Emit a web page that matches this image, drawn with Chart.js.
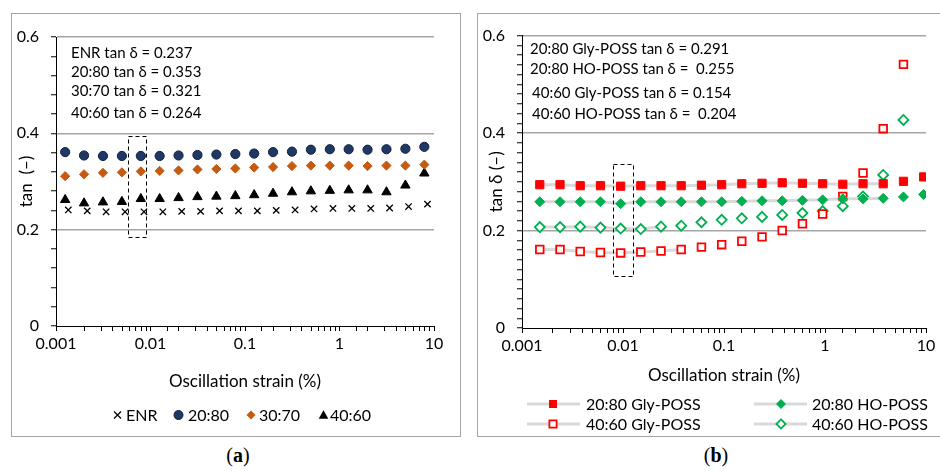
<!DOCTYPE html>
<html>
<head>
<meta charset="utf-8">
<script src="https://cdn.jsdelivr.net/npm/chart.js@4.4.1/dist/chart.umd.min.js"></script>
<style>
  body { margin: 0; width: 940px; height: 471px; overflow: hidden; background: #fff; position: relative; }
  .panel { position: absolute; top: 14px; height: 422px; outline: 1.5px solid #a6a6a6; }
  #panelA { left: 12px; width: 448px; }
  #panelB { left: 478px; width: 470px; }
  .tag { position: absolute; top: 443px; width: 60px; text-align: center; font: 20px "Liberation Serif", serif; line-height: 24px; color: #000; }
</style>
</head>
<body>
<div class="panel" id="panelA"><canvas id="chartA" width="448" height="422"></canvas></div>
<div class="panel" id="panelB"><canvas id="chartB" width="470" height="422"></canvas></div>
<div class="tag" style="left:208px">(<b>a</b>)</div>
<div class="tag" style="left:686px">(<b>b</b>)</div>
<script>
'use strict';

// ****** DATA (a) *****
const strainA = [0.00125, 0.00198, 0.00314, 0.00498, 0.0079, 0.0125, 0.0198, 0.0314, 0.0498, 0.079,
  0.125, 0.198, 0.314, 0.498, 0.79, 1.25, 1.98, 3.14, 4.98, 7.9];
const strainEnr = [0.00135, 0.00214, 0.00339, 0.00538, 0.00853, 0.0135, 0.0214, 0.0339, 0.0538, 0.0853,
  0.135, 0.214, 0.339, 0.538, 0.853, 1.35, 2.14, 3.39, 5.38, 8.53];
const tanEnr = [0.241, 0.239, 0.237, 0.237, 0.237, 0.237, 0.238, 0.238, 0.239, 0.239,
  0.239, 0.240, 0.241, 0.243, 0.244, 0.244, 0.244, 0.245, 0.248, 0.253];
const tan2080 = [0.361, 0.354, 0.353, 0.353, 0.353, 0.353, 0.354, 0.355, 0.356, 0.357,
  0.358, 0.361, 0.362, 0.366, 0.367, 0.367, 0.366, 0.367, 0.368, 0.372];
const tan3070 = [0.311, 0.315, 0.318, 0.319, 0.321, 0.322, 0.323, 0.325, 0.326, 0.327,
  0.329, 0.330, 0.332, 0.333, 0.333, 0.333, 0.332, 0.333, 0.333, 0.335];
const tan4060 = [0.262, 0.255, 0.257, 0.258, 0.264, 0.264, 0.266, 0.268, 0.269, 0.270,
  0.272, 0.275, 0.278, 0.280, 0.281, 0.282, 0.282, 0.278, 0.292, 0.317];
const notesA = ['ENR tan \u03b4 = 0.237', '20:80 tan \u03b4 = 0.353', '30:70 tan \u03b4 = 0.321', '40:60 tan \u03b4 = 0.264'];

// ****** DATA (b) *****
const strainB = [0.0015, 0.00238, 0.00377, 0.00598, 0.00948, 0.015, 0.0238, 0.0377, 0.0598, 0.0948,
  0.15, 0.238, 0.377, 0.598, 0.948, 1.5, 2.38, 3.77, 5.98, 9.48];
const gly2080 = [0.294, 0.294, 0.292, 0.292, 0.291, 0.292, 0.292, 0.292, 0.293, 0.294,
  0.296, 0.297, 0.298, 0.297, 0.296, 0.295, 0.296, 0.296, 0.301, 0.310];
const ho2080 = [0.259, 0.259, 0.259, 0.259, 0.255, 0.259, 0.259, 0.259, 0.259, 0.259,
  0.260, 0.261, 0.261, 0.262, 0.263, 0.265, 0.265, 0.266, 0.269, 0.274];
const gly4060 = [0.161, 0.161, 0.157, 0.155, 0.154, 0.156, 0.158, 0.161, 0.166, 0.171,
  0.178, 0.187, 0.200, 0.214, 0.234, 0.270, 0.318, 0.409, 0.541];
const ho4060 = [0.207, 0.207, 0.208, 0.206, 0.204, 0.203, 0.208, 0.210, 0.217, 0.222,
  0.225, 0.228, 0.232, 0.236, 0.240, 0.250, 0.270, 0.314, 0.427];
const notesB = ['20:80 Gly-POSS tan \u03b4 = 0.291', '20:80 HO-POSS tan \u03b4 =  0.255',
  '40:60 Gly-POSS tan \u03b4 = 0.154', '40:60 HO-POSS tan \u03b4 =  0.204'];

const FONT = 'Lato';
const RED = '#ff0000';
const GREEN = '#00b050';
const LINK = '#d9d9d9';

// ***** HELPERS *****
function pairs(xs, ys){
  let out = [];
  for(let i = 0; i < ys.length; i++){
    out.push({x: xs[i], y: ys[i]});
  }
  return out;
}

function decadeLabel(value){
  let e = Math.log10(value);
  return Math.abs(e - Math.round(e)) < 1e-6 ? String(value) : '';
}

function fifthLabel(value){
  return Math.abs(value * 5 - Math.round(value * 5)) < 1e-6 ? String(Math.round(value * 5) / 5) : '';
}

function gridColor(ctx){
  return (ctx.tick && fifthLabel(ctx.tick.value) !== '' && ctx.tick.value > 0) ? '#a6a6a6' : 'rgba(0,0,0,0)';
}

// grey connector only over the linear region of a series
function linkUpTo(lastIndex){
  return {borderColor: ctx => ctx.p1DataIndex <= lastIndex ? LINK : 'rgba(0,0,0,0)'};
}

function marker(ctx, style, x, y, r, fill, stroke, lw){
  ctx.save();
  ctx.beginPath();
  if(style === 'circle'){
    ctx.arc(x, y, r, 0, Math.PI * 2);
  } else if(style === 'rect'){
    ctx.rect(x - r, y - r, r * 2, r * 2);
  } else if(style === 'diamond'){
    ctx.moveTo(x, y - r); ctx.lineTo(x + r, y); ctx.lineTo(x, y + r); ctx.lineTo(x - r, y); ctx.closePath();
  } else if(style === 'triangle'){
    ctx.moveTo(x, y - r); ctx.lineTo(x + r, y + r * 0.8); ctx.lineTo(x - r, y + r * 0.8); ctx.closePath();
  } else if(style === 'cross'){
    ctx.moveTo(x - r, y - r); ctx.lineTo(x + r, y + r);
    ctx.moveTo(x + r, y - r); ctx.lineTo(x - r, y + r);
  }
  if(fill){ ctx.fillStyle = fill; ctx.fill(); }
  if(stroke){ ctx.strokeStyle = stroke; ctx.lineWidth = lw; ctx.stroke(); }
  ctx.restore();
}

function axisOptions(xHeight, yWidth, yStep){
  let tickFont = {family: FONT, size: 16};
  return {
    x: {
      type: 'logarithmic', min: 0.001, max: 10,
      afterFit: s => { s.height = xHeight; },
      border: {color: '#000', width: 1},
      grid: {drawOnChartArea: false, tickLength: 5, tickColor: '#000'},
      ticks: {autoSkip: false, maxRotation: 0, padding: 3, color: '#000', font: tickFont, callback: decadeLabel}
    },
    y: {
      min: 0, max: 0.6,
      afterFit: s => { s.width = yWidth; },
      border: {color: '#000', width: 1},
      grid: {color: gridColor, lineWidth: 1.5, tickLength: 5, tickColor: '#000', tickWidth: 1},
      ticks: {stepSize: yStep, autoSkip: false, padding: 12, color: '#000', font: tickFont, callback: fifthLabel}
    }
  };
}

// draws the dashed selection box, the tan delta notes, axis titles and legend
function panelDecor(setup){
  return {
    id: 'panelDecor',
    afterDatasetsDraw(chart){
      let ctx = chart.ctx;
      let sx = chart.scales.x;
      let sy = chart.scales.y;
      let b = setup.box;
      let x1 = sx.getPixelForValue(b[0]);
      let x2 = sx.getPixelForValue(b[1]);
      let y1 = sy.getPixelForValue(b[3]);
      let y2 = sy.getPixelForValue(b[2]);
      ctx.save();
      ctx.setLineDash([4, 3]);
      ctx.strokeStyle = '#000';
      ctx.lineWidth = 1;
      ctx.strokeRect(Math.round(x1) + 0.5, Math.round(y1) + 0.5, Math.round(x2 - x1), Math.round(y2 - y1));
      ctx.restore();
    },
    afterDraw(chart){
      let ctx = chart.ctx;
      let area = chart.chartArea;
      ctx.save();
      ctx.fillStyle = '#000';
      ctx.textBaseline = 'middle';
      ctx.font = setup.noteSize + 'px ' + FONT;
      for(let i = 0; i < setup.notes.length; i++){
        ctx.fillText(setup.notes[i], setup.noteX[i], setup.noteY[i]);
      }
      ctx.font = '17px ' + FONT;
      ctx.textAlign = 'center';
      ctx.fillText('Oscillation strain (%)', (area.left + area.right) / 2, setup.xTitleY);
      ctx.save();
      ctx.translate(setup.yTitleX, (area.top + area.bottom) / 2);
      ctx.rotate(-Math.PI / 2);
      ctx.fillText(setup.yTitle, 0, 0);
      ctx.restore();
      ctx.font = '16px ' + FONT;
      ctx.textAlign = 'left';
      for(let item of setup.legend){
        if(item.line){
          ctx.fillStyle = LINK;
          ctx.fillRect(item.line[0], item.y - 1.5, item.line[1] - item.line[0], 3);
        }
        marker(ctx, item.style, item.mx, item.y, item.r, item.fill, item.stroke, item.lw);
        ctx.fillStyle = '#000';
        ctx.fillText(item.text, item.tx, item.y + 1);
      }
      ctx.restore();
    }
  };
}

// ***** CHART (a) *****
new Chart(document.getElementById('chartA'), {
  type: 'scatter',
  data: {
    datasets: [
      {label: 'ENR', data: pairs(strainEnr, tanEnr), pointStyle: 'crossRot', pointRadius: 4.5,
        pointBorderColor: '#000', pointBorderWidth: 1.3},
      {label: '20:80', data: pairs(strainA, tan2080), pointStyle: 'circle', pointRadius: 4.6,
        pointBackgroundColor: '#1f3864', pointBorderColor: '#0f1f3d', pointBorderWidth: 1},
      {label: '30:70', data: pairs(strainA, tan3070), pointStyle: 'rectRot', pointRadius: 4.6,
        pointBackgroundColor: '#c55a11', pointBorderColor: '#c55a11', pointBorderWidth: 1},
      {label: '40:60', data: pairs(strainA, tan4060), pointStyle: 'triangle', pointRadius: 5.4,
        pointBackgroundColor: '#000', pointBorderColor: '#000', pointBorderWidth: 1}
    ]
  },
  options: {
    responsive: false,
    animation: false,
    events: [],
    layout: {padding: {left: 0, top: 23, right: 26, bottom: 0}},
    plugins: {legend: {display: false}, tooltip: {enabled: false}},
    scales: axisOptions(110, 44, 0.04)
  },
  plugins: [panelDecor({
    box: [0.0058, 0.009, 0.185, 0.394],
    notes: notesA, noteSize: 15,
    noteX: [59, 59, 59, 59], noteY: [39, 58, 77, 99],
    xTitleY: 368, yTitleX: 15, yTitle: 'tan  (\u2013)',
    legend: [
      {style: 'cross', mx: 105.5, y: 401, r: 3.5, stroke: '#000', lw: 1.2, text: 'ENR', tx: 114},
      {style: 'circle', mx: 166.5, y: 401, r: 4.5, fill: '#1f3864', stroke: '#0f1f3d', lw: 1, text: '20:80', tx: 176},
      {style: 'diamond', mx: 239, y: 401, r: 4.5, fill: '#c55a11', text: '30:70', tx: 247},
      {style: 'triangle', mx: 311.5, y: 401, r: 4.8, fill: '#000', text: '40:60', tx: 318}
    ]
  })]
});

// ***** CHART (b) *****
new Chart(document.getElementById('chartB'), {
  type: 'scatter',
  data: {
    datasets: [
      {label: '20:80 Gly-POSS', data: pairs(strainB, gly2080), showLine: true, borderWidth: 3, segment: linkUpTo(17),
        pointStyle: 'rect', pointRadius: 5.8, pointBackgroundColor: RED, pointBorderColor: RED, pointBorderWidth: 1},
      {label: '20:80 HO-POSS', data: pairs(strainB, ho2080), showLine: true, borderWidth: 3, segment: linkUpTo(17),
        pointStyle: 'rectRot', pointRadius: 5, pointBackgroundColor: GREEN, pointBorderColor: GREEN, pointBorderWidth: 1},
      {label: '40:60 Gly-POSS', data: pairs(strainB, gly4060), showLine: true, borderWidth: 3, segment: linkUpTo(7),
        pointStyle: 'rect', pointRadius: 5.4, pointBackgroundColor: '#fff', pointBorderColor: RED, pointBorderWidth: 1.8},
      {label: '40:60 HO-POSS', data: pairs(strainB, ho4060), showLine: true, borderWidth: 3, segment: linkUpTo(6),
        pointStyle: 'rectRot', pointRadius: 5, pointBackgroundColor: '#fff', pointBorderColor: GREEN, pointBorderWidth: 1.8}
    ]
  },
  options: {
    responsive: false,
    animation: false,
    events: [],
    layout: {padding: {left: 0, top: 17, right: 22, bottom: 0}},
    plugins: {legend: {display: false}, tooltip: {enabled: false}},
    scales: axisOptions(108, 44, 0.02)
  },
  plugins: [panelDecor({
    box: [0.0079, 0.0124, 0.1055, 0.336],
    notes: notesB, noteSize: 15,
    noteX: [52, 52, 54, 54], noteY: [35, 55, 79, 100],
    xTitleY: 362, yTitleX: 19, yTitle: 'tan \u03b4 (\u2013)',
    legend: [
      {line: [49, 102], style: 'rect', mx: 75, y: 390, r: 4, fill: RED, text: '20:80 Gly-POSS', tx: 108},
      {line: [276, 329], style: 'diamond', mx: 303, y: 390, r: 5, fill: GREEN, text: '20:80 HO-POSS', tx: 334},
      {line: [49, 102], style: 'rect', mx: 75, y: 410, r: 3.6, fill: '#fff', stroke: RED, lw: 1.8, text: '40:60 Gly-POSS', tx: 108},
      {line: [276, 329], style: 'diamond', mx: 303, y: 410, r: 4.6, fill: '#fff', stroke: GREEN, lw: 1.8, text: '40:60 HO-POSS', tx: 334}
    ]
  })]
});
</script>
</body>
</html>
